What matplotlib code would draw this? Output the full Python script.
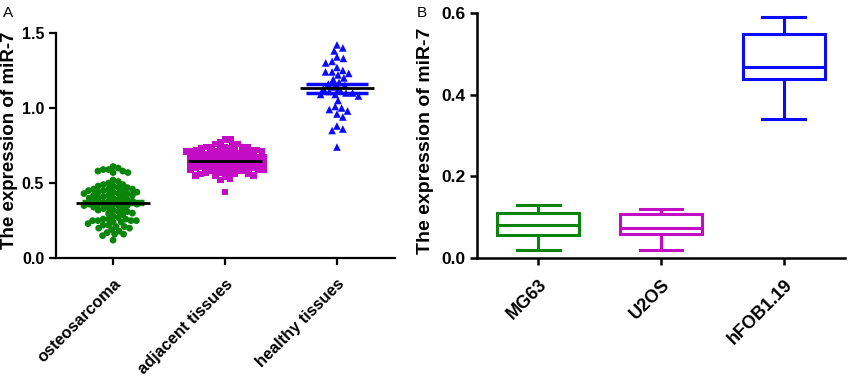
import numpy as np
import matplotlib
matplotlib.use("Agg")
import matplotlib.pyplot as plt

plt.rcParams['font.family'] = ['Liberation Sans', 'DejaVu Sans']

# ---- panel A data ----
groups_a = ['osteosarcoma', 'adjacent tissues', 'healthy tissues']
osteo = [0.61, 0.60, 0.59, 0.59, 0.58, 0.58, 0.57, 0.57,
         0.52, 0.51, 0.50, 0.49, 0.49, 0.48, 0.48, 0.47, 0.47, 0.46, 0.46, 0.46,
         0.45, 0.45, 0.45, 0.44, 0.44, 0.44, 0.43, 0.43, 0.43, 0.42, 0.42, 0.42,
         0.41, 0.41, 0.40, 0.40, 0.40, 0.39, 0.39, 0.38, 0.38, 0.38, 0.37, 0.37,
         0.36, 0.36, 0.36, 0.36, 0.35, 0.35, 0.35, 0.34, 0.34, 0.33, 0.33, 0.32,
         0.32, 0.31, 0.31, 0.30, 0.30, 0.29, 0.28,
         0.27, 0.26, 0.26, 0.26, 0.25, 0.25, 0.25, 0.25, 0.24, 0.24, 0.23, 0.22,
         0.22, 0.21, 0.21, 0.20, 0.20, 0.19, 0.18, 0.17, 0.16, 0.16, 0.15, 0.12]
adjacent = [0.79, 0.79, 0.77, 0.76, 0.76, 0.76,
            0.74, 0.74, 0.74, 0.74, 0.74, 0.73, 0.73, 0.73,
            0.72, 0.72, 0.72, 0.72, 0.71, 0.71, 0.71, 0.71,
            0.70, 0.70, 0.70, 0.70, 0.69, 0.69, 0.69, 0.69,
            0.68, 0.68, 0.68, 0.68, 0.67, 0.67, 0.67, 0.67,
            0.66, 0.66, 0.66, 0.66, 0.65, 0.65, 0.65, 0.65,
            0.64, 0.64, 0.64, 0.64, 0.63, 0.63, 0.63, 0.63,
            0.62, 0.62, 0.62, 0.62, 0.61, 0.61, 0.61, 0.61,
            0.60, 0.60, 0.60, 0.60, 0.59, 0.59, 0.59, 0.59,
            0.58, 0.58, 0.58, 0.58, 0.57, 0.57, 0.57,
            0.56, 0.56, 0.56, 0.55, 0.55, 0.55, 0.54, 0.53, 0.52, 0.44]
healthy = [1.42, 1.40, 1.38, 1.34, 1.33, 1.31, 1.30, 1.27, 1.25, 1.24, 1.24, 1.23,
           1.22, 1.20, 1.19, 1.17, 1.16, 1.15, 1.14, 1.13, 1.12, 1.11, 1.10, 1.10,
           1.09, 1.09, 1.08, 1.05, 1.01, 1.00, 0.99, 0.98, 0.96, 0.94, 0.88, 0.86,
           0.85, 0.74]
means_a = [0.37, 0.65, 1.13]
sem_a = [0.012, 0.008, 0.03]
yticks_a = [0.0, 0.5, 1.0, 1.5]

# ---- panel B data (box plot stats) ----
groups_b = ['MG63', 'U2OS', 'hFOB1.19']
wlo_b = [0.02, 0.02, 0.34]
q1_b = [0.057, 0.058, 0.437]
med_b = [0.082, 0.075, 0.468]
q3_b = [0.110, 0.107, 0.548]
whi_b = [0.130, 0.120, 0.590]
yticks_b = [0.0, 0.2, 0.4, 0.6]

colors = ['#0a840a', '#c40cc4', '#0a0aff']
markers = ['o', 's', '^']
msizes = [24, 24, 30]
swarm_d = [5.4, 5.2, 6.6]   # point spacing in px for the column scatter


def swarm_x(vals, center, px_x, px_y, d):
    # simple beeswarm: place each point as close to the center as it fits
    ys = np.asarray(vals) * px_y
    placed = []
    xs = []
    for y in ys:
        cands = [0.0]
        for (px, py) in placed:
            dy = abs(py - y)
            if dy < d:
                dx = np.sqrt(d * d - dy * dy)
                cands += [px + dx, px - dx]
        cands.sort(key=abs)
        for c in cands:
            ok = all((c - px) ** 2 + (y - py) ** 2 >= d * d - 1e-6
                     for (px, py) in placed)
            if ok:
                break
        placed.append((c, y))
        xs.append(center + c / px_x)
    return np.array(xs)


fig = plt.figure(figsize=(8.48, 3.78), dpi=100)
axA = fig.add_axes([0.066, 0.317, 0.400, 0.596])
axB = fig.add_axes([0.5625, 0.317, 0.434, 0.649])

for ax, lw, fs in ((axA, 1.6, 11.5), (axB, 1.8, 12.5)):
    for s in ('top', 'right'):
        ax.spines[s].set_visible(False)
    for s in ('left', 'bottom'):
        ax.spines[s].set_linewidth(lw)
    ax.tick_params(width=lw, length=5, direction='out', labelsize=fs)

# panel A
data_a = [osteo, adjacent, healthy]
for i, vals in enumerate(data_a):
    xs = swarm_x(vals, i, 112.0, 149.3, swarm_d[i])
    axA.scatter(xs, vals, s=msizes[i], marker=markers[i], color=colors[i],
                edgecolors='none', zorder=3)
    axA.errorbar(i, means_a[i], yerr=sem_a[i], color=colors[i], capsize=22,
                 capthick=2.5, elinewidth=2.5, fmt='none', zorder=4)
    axA.hlines(means_a[i], i - 0.33, i + 0.33, color='black', lw=2, zorder=5)

axA.set_xlim(-0.51, 2.52)
axA.set_ylim(0, 1.5)
axA.set_yticks(yticks_a)
axA.set_yticklabels(['%.1f' % v for v in yticks_a], fontweight='bold')
axA.set_xticks(range(3))
axA.set_xticklabels(groups_a, rotation=45, ha='right', rotation_mode='anchor',
                    fontweight='bold', fontsize=11.8)
axA.tick_params(axis='x', pad=8)
axA.set_ylabel('The expression of miR-7', fontsize=13.5, fontweight='bold')
axA.yaxis.set_label_coords(-0.112, 0.524)

# panel B
stats = []
for i in range(3):
    stats.append(dict(whislo=wlo_b[i], q1=q1_b[i], med=med_b[i],
                      q3=q3_b[i], whishi=whi_b[i], fliers=[]))
bp = axB.bxp(stats, positions=range(3), widths=0.67, patch_artist=True,
             showfliers=False)
for i in range(3):
    c = colors[i]
    bp['boxes'][i].set(facecolor='white', edgecolor=c, linewidth=2.2)
    bp['medians'][i].set(color=c, linewidth=2.2)
    for j in (2 * i, 2 * i + 1):
        bp['whiskers'][j].set(color=c, linewidth=2.2)
        bp['caps'][j].set(color=c, linewidth=2.2, xdata=[i - 0.175, i + 0.175])

axB.set_xlim(-0.5, 2.5)
axB.set_ylim(0, 0.6)
axB.set_yticks(yticks_b)
axB.set_yticklabels(['%.1f' % v for v in yticks_b], fontweight='bold')
axB.set_xticks(range(3))
axB.set_xticklabels(groups_b, rotation=45, ha='right', rotation_mode='anchor',
                    fontweight='bold', fontsize=13)
axB.tick_params(axis='x', pad=8)
axB.set_ylabel('The expression of miR-7', fontsize=14, fontweight='bold')
axB.yaxis.set_label_coords(-0.118, 0.48)

fig.text(0.003, 0.985, 'A', fontsize=11, va='top')
fig.text(0.492, 0.983, 'B', fontsize=11, va='top')

fig.savefig('out.png', dpi=100)
